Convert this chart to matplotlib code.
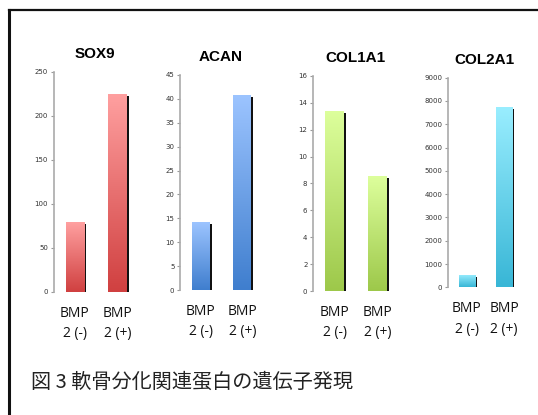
import matplotlib.pyplot as plt
import numpy as np
from matplotlib.lines import Line2D
from matplotlib import patheffects as pe
from matplotlib.colors import LinearSegmentedColormap

# データ
genes = ['SOX9', 'ACAN', 'COL1A1', 'COL2A1']
groups = ['BMP\n2 (-)', 'BMP\n2 (+)']
sox9 = [79, 225]
acan = [14.2, 40.8]
col1a1 = [13.4, 8.55]
col2a1 = [530, 7730]
values = [sox9, acan, col1a1, col2a1]
ymax = [250, 45, 16, 9000]
ystep = [50, 5, 2, 1000]

# 上の色, 下の色
colors = [('#ffa0a0', '#d04040'),
          ('#9cc4ff', '#3f7ece'),
          ('#ddff9c', '#9dc84a'),
          ('#9aeeff', '#38b6d6')]

W, H = 538, 415
fig = plt.figure(figsize=(W / 100, H / 100), dpi=100)

# 軸の位置 (px): 左端, 幅, 0の位置, 上端の位置
layout = [(53.5, 83, 292, 71.7),
          (180, 81, 290, 75),
          (313, 84, 291, 76),
          (448, 73, 287.3, 77.7)]

for i, g in enumerate(genes):
    x0, w, y0, y1 = layout[i]
    ax = fig.add_axes([x0 / W, 1 - y0 / H, w / W, (y0 - y1) / H])
    xs = np.arange(len(groups))
    cmap = LinearSegmentedColormap.from_list(g, [colors[i][1], colors[i][0]])
    bars = ax.bar(xs, values[i], width=0.43, color=colors[i][1], zorder=2,
                  path_effects=[pe.SimplePatchShadow(offset=(1.6, -1.4),
                                                     shadow_rgbFace='#111111', alpha=1),
                                pe.Normal()])
    grad = np.linspace(0, 1, 256).reshape(-1, 1)
    for b in bars:
        bx, by = b.get_x(), b.get_y()
        bw, bh = b.get_width(), b.get_height()
        im = ax.imshow(grad, extent=(bx, bx + bw, by, by + bh), origin='lower',
                       aspect='auto', cmap=cmap, vmin=0, vmax=1, zorder=3)
        im.set_clip_path(b)
    ax.set_xlim(-0.5, 1.45)
    ax.set_ylim(0, ymax[i])
    ax.set_yticks(np.arange(0, ymax[i] + ystep[i] / 2, ystep[i]))
    ax.set_xticks(xs)
    ax.set_xticklabels(groups, fontsize=10, family='Open Sans', linespacing=1.5,
                       color='#111111')
    ax.tick_params(axis='x', length=0, pad=10)
    ax.tick_params(axis='y', labelsize=5, length=2, width=0.8, color='#999999',
                   labelcolor='#333333', pad=2)
    for s in ['top', 'right', 'bottom']:
        ax.spines[s].set_visible(False)
    ax.spines['left'].set_color('#aaaaaa')
    ax.spines['left'].set_linewidth(1.2)
    ax.set_title(g, fontsize=11, fontweight='bold', family='Liberation Sans', pad=10)

# 枠線
fig.add_artist(Line2D([8.5 / W, 1], [1 - 10 / H, 1 - 10 / H], color='#111111', lw=1.6))
fig.add_artist(Line2D([9 / W, 9 / W], [0, 1 - 10 / H], color='#111111', lw=2.2))

fig.text(31 / W, 1 - 382 / H, '図 3 軟骨分化関連蛋白の遺伝子発現', fontsize=14.5,
         family=['Noto Sans CJK JP', 'DejaVu Sans'], va='center', ha='left',
         color='#222222')

plt.savefig('out.png', dpi=100)
